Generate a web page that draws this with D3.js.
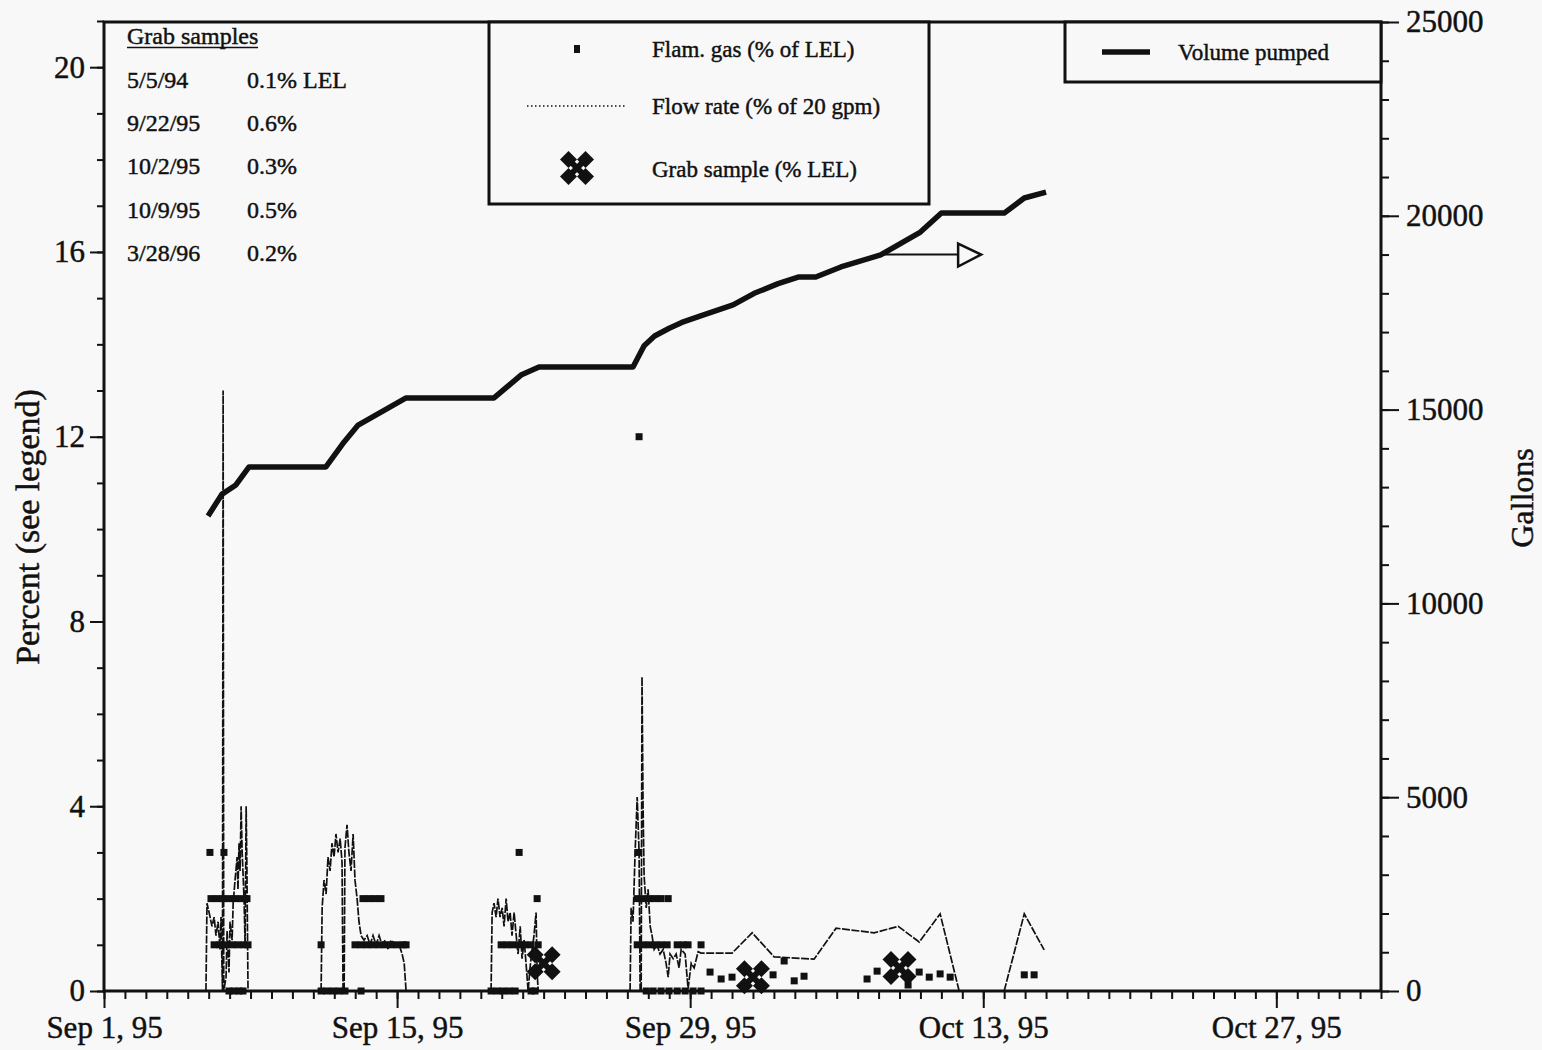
<!DOCTYPE html>
<html>
<head>
<meta charset="utf-8">
<script src="https://cdn.jsdelivr.net/npm/d3@7"></script>
<style>
body { margin: 0; background: #f8f8f8; }
svg { display: block; }
text { font-family: "Liberation Serif", "Times New Roman", serif; fill: #111; stroke: #111; stroke-width: 0.45px; }
</style>
</head>
<body>
<svg id="chart"></svg>
<script>
'use strict';

const WIDTH = 1542;
const HEIGHT = 1050;
const LEFT = 104;
const RIGHT = 1381;
const TOP = 22;
const BOTTOM = 991;
const INK = "#111";

// days counted from Sep 1, 1995
const START = Date.UTC(1995, 8, 1);
const END = Date.UTC(1995, 10, 1);

// [day, gallons]
const volumePumped = [
    [4.97, 12255], [5.64, 12820], [6.3, 13055], [6.93, 13520], [10.6, 13520],
    [11.47, 14165], [12.14, 14600], [13.57, 15040], [14.43, 15300], [18.63, 15300],
    [19.92, 15890], [20.78, 16100], [25.27, 16100], [25.8, 16650], [26.3, 16900],
    [27.0, 17100], [27.6, 17250], [28.5, 17420], [30.05, 17700], [31.06, 18000],
    [32.2, 18250], [33.16, 18420], [34.0, 18420], [35.2, 18680], [37.1, 18990],
    [39.0, 19580], [40.0, 20070], [43.0, 20070], [43.96, 20460], [45.0, 20610]
];

// [day, % of LEL]
const flamGas = [
    [5.06, 3], [5.73, 3],
    [5.11, 2], [5.40, 2], [5.69, 2], [5.97, 2], [6.26, 2], [6.55, 2], [6.83, 2],
    [5.26, 1], [5.54, 1], [5.83, 1], [6.12, 1], [6.40, 1], [6.69, 1], [6.88, 1],
    [5.97, 0], [6.21, 0], [6.45, 0], [6.64, 0],
    [10.37, 1], [11.99, 1], [12.28, 1], [12.57, 1], [12.85, 1], [13.14, 1], [13.43, 1],
    [13.71, 1], [14.0, 1], [14.29, 1], [14.43, 1],
    [12.37, 2], [12.66, 2], [12.95, 2], [13.23, 2],
    [10.37, 0], [10.65, 0], [10.94, 0], [11.23, 0], [11.51, 0], [12.28, 0],
    [19.83, 3], [20.69, 2],
    [18.97, 1], [19.25, 1], [19.54, 1], [19.83, 1], [20.11, 1], [20.40, 1], [20.74, 1],
    [18.49, 0], [18.78, 0], [19.06, 0], [19.35, 0], [19.64, 0], [20.40, 0], [20.59, 0],
    [25.56, 12], [25.51, 3],
    [25.47, 2], [25.75, 2], [26.04, 2], [26.33, 2], [26.61, 2], [26.95, 2],
    [25.47, 1], [25.75, 1], [26.04, 1], [26.33, 1], [26.61, 1], [26.90, 1], [27.38, 1],
    [27.67, 1], [27.90, 1], [28.52, 1],
    [25.90, 0], [26.23, 0], [26.61, 0], [26.99, 0], [27.38, 0], [27.76, 0], [28.14, 0], [28.52, 0],
    [28.95, 0.41], [29.48, 0.26], [30.0, 0.30], [31.96, 0.35], [32.49, 0.65], [32.97, 0.22],
    [33.44, 0.32], [36.45, 0.26], [36.93, 0.43], [38.41, 0.13], [38.94, 0.41], [39.42, 0.30],
    [39.94, 0.37], [40.42, 0.30], [43.96, 0.35], [44.43, 0.35]
];

// [day, % of 20 gpm], one array per pumping run
const flowRun1 = [
    [4.87, 0], [4.92, 1.9], [5.02, 1.7], [5.16, 1.4], [5.26, 1.6], [5.35, 1.2], [5.45, 1.5],
    [5.54, 0.9], [5.59, 1.6], [5.66, 0], [5.69, 13], [5.72, 0], [5.83, 0.3], [5.88, 1.3],
    [5.97, 0.4], [6.02, 1.5], [6.12, 1.1], [6.17, 1.9], [6.26, 2.4], [6.36, 2.9], [6.40, 2.2],
    [6.45, 3.2], [6.50, 2.6], [6.55, 4.0], [6.60, 3.0], [6.69, 2.0], [6.74, 1.0], [6.79, 4.0],
    [6.83, 2.5], [6.88, 0]
];
const flowRun2 = [
    [10.37, 0], [10.42, 1.8], [10.51, 2.4], [10.61, 2.1], [10.70, 2.9], [10.80, 2.6], [10.89, 3.2],
    [10.99, 2.9], [11.08, 3.4], [11.18, 3.0], [11.28, 3.3], [11.37, 2.8], [11.42, 0], [11.47, 0],
    [11.51, 3.1], [11.61, 3.6], [11.70, 3.0], [11.80, 2.6], [11.90, 3.4], [11.99, 2.4], [12.09, 2.0],
    [12.18, 1.5], [12.28, 1.2], [12.42, 1.1], [12.57, 1.2], [12.71, 1.0], [12.85, 1.2], [13.0, 1.0],
    [13.14, 1.2], [13.28, 1.0], [13.43, 1.1], [13.57, 0.9], [13.71, 1.1], [13.90, 1.0], [14.10, 1.0],
    [14.24, 0.8], [14.34, 0.6], [14.43, 0]
];
const flowRun3 = [
    [18.49, 0], [18.54, 1.7], [18.63, 1.9], [18.73, 1.6], [18.82, 2.0], [18.92, 1.6], [19.02, 1.8],
    [19.11, 1.4], [19.21, 2.0], [19.30, 1.5], [19.40, 1.7], [19.49, 1.2], [19.59, 1.7], [19.69, 1.2],
    [19.78, 0.8], [19.88, 1.4], [19.97, 0.7], [20.07, 1.1], [20.16, 0.6], [20.26, 0], [20.35, 0.5],
    [20.45, 0.9], [20.54, 1.2], [20.64, 1.7], [20.69, 0.4], [20.74, 0]
];
const flowRun4 = [
    [25.13, 0], [25.18, 1.8], [25.27, 1.5], [25.37, 3.0], [25.47, 4.2], [25.56, 3.0], [25.61, 0],
    [25.66, 0], [25.70, 6.8], [25.75, 4.0], [25.80, 2.5], [25.90, 1.8], [25.99, 2.2], [26.09, 1.4],
    [26.18, 1.2], [26.28, 0.9], [26.42, 1.0], [26.56, 0.8], [26.71, 0.9], [26.85, 0.6], [26.95, 0.3],
    [27.04, 0.8], [27.19, 0.7], [27.33, 0.8], [27.47, 0.5], [27.57, 0.9], [27.76, 0.8], [27.90, 0.05],
    [28.05, 0.6], [28.19, 0.5], [28.38, 0.85], [28.52, 0.82], [30.0, 0.82], [30.96, 1.26],
    [32.01, 0.74], [33.92, 0.69], [34.97, 1.36], [36.79, 1.26], [37.94, 1.40], [38.94, 1.06],
    [39.94, 1.67], [40.85, 0]
];
const flowRun5 = [
    [43.0, 0], [43.96, 1.67], [44.91, 0.89]
];

// [day, % LEL]
const grabSamples = [[21, 0.6], [31, 0.3], [38, 0.5]];

const grabDates = ["5/5/94", "9/22/95", "10/2/95", "10/9/95", "3/28/96"];
const grabValues = ["0.1% LEL", "0.6%", "0.3%", "0.5%", "0.2%"];

const percentTicks = [0, 4, 8, 12, 16, 20];
const gallonTicks = [0, 5000, 10000, 15000, 20000, 25000];

const toDate = d => new Date(START + d * 864e5);

const svg = d3.select("svg#chart")
              .attr("width", WIDTH)
              .attr("height", HEIGHT);

svg.append("rect")
   .attr("width", WIDTH)
   .attr("height", HEIGHT)
   .attr("fill", "#f8f8f8");

const xScale = d3.scaleUtc()
                 .domain([new Date(START), new Date(END)])
                 .range([LEFT, RIGHT]);
const yLeft = d3.scaleLinear()
                .domain([0, 21])
                .range([BOTTOM, TOP - 1]);
const yRight = d3.scaleLinear()
                 .domain([0, 25000])
                 .range([BOTTOM, TOP]);

const allDays = d3.utcDay.range(new Date(START), new Date(END + 1));
const majorDays = allDays.filter((d, i) => i % 14 === 0 && i < 60);

const styleAxis = (g, size) => {
    g.select(".domain").remove();
    g.selectAll(".tick line").attr("stroke", INK).attr("stroke-width", 2);
    g.selectAll(".tick text").attr("font-size", size).attr("fill", INK)
     .attr("font-family", "Liberation Serif, serif");
};

// minor ticks
svg.append("g")
   .attr("transform", "translate(0," + BOTTOM + ")")
   .call(d3.axisBottom(xScale).tickValues(allDays).tickSize(8).tickFormat(""))
   .call(g => styleAxis(g, 0));
svg.append("g")
   .attr("transform", "translate(" + LEFT + ",0)")
   .call(d3.axisLeft(yLeft).tickValues(d3.range(0, 22)).tickSize(7).tickFormat(""))
   .call(g => styleAxis(g, 0));
svg.append("g")
   .attr("transform", "translate(" + RIGHT + ",0)")
   .call(d3.axisRight(yRight).tickValues(d3.range(0, 25001, 1000)).tickSize(8).tickFormat(""))
   .call(g => styleAxis(g, 0));

// major ticks
svg.append("g")
   .attr("transform", "translate(0," + BOTTOM + ")")
   .call(d3.axisBottom(xScale).tickValues(majorDays).tickSize(17).tickPadding(8)
           .tickFormat(d3.utcFormat("%b %-d, %y")))
   .call(g => styleAxis(g, 31));
svg.append("g")
   .attr("transform", "translate(" + LEFT + ",0)")
   .call(d3.axisLeft(yLeft).tickValues(percentTicks).tickSize(14).tickPadding(5))
   .call(g => styleAxis(g, 31));
svg.append("g")
   .attr("transform", "translate(" + RIGHT + ",0)")
   .call(d3.axisRight(yRight).tickValues(gallonTicks).tickSize(18).tickPadding(7)
           .tickFormat(d3.format("d")))
   .call(g => styleAxis(g, 31));

// frame
svg.append("path")
   .attr("d", "M" + LEFT + "," + TOP + "H" + RIGHT + "V" + BOTTOM + "H" + LEFT + "Z")
   .attr("fill", "none")
   .attr("stroke", INK)
   .attr("stroke-width", 3);

// axis titles
svg.append("text")
   .attr("transform", "translate(39,527) rotate(-90)")
   .attr("text-anchor", "middle")
   .attr("font-size", 34)
   .text("Percent (see legend)");
svg.append("text")
   .attr("transform", "translate(1533,498) rotate(-90)")
   .attr("text-anchor", "middle")
   .attr("font-size", 32)
   .text("Gallons");

// flow rate
const flowLine = d3.line()
                   .x(d => xScale(toDate(d[0])))
                   .y(d => yLeft(d[1]));
[flowRun1, flowRun2, flowRun3, flowRun4, flowRun5].forEach(run => {
    svg.append("path")
       .datum(run)
       .attr("fill", "none")
       .attr("stroke", INK)
       .attr("stroke-width", 1.7)
       .attr("stroke-dasharray", "8,1.5")
       .attr("d", flowLine);
});

// volume pumped
svg.append("path")
   .datum(volumePumped)
   .attr("fill", "none")
   .attr("stroke", INK)
   .attr("stroke-width", 5.5)
   .attr("stroke-linejoin", "round")
   .attr("d", d3.line()
                .x(d => xScale(toDate(d[0])))
                .y(d => yRight(d[1])));

// arrow pointing at the gallons axis
const arrowY = yRight(19000);
const arrowX0 = xScale(toDate(37.2));
const arrowX1 = xScale(toDate(40.8));
const arrowTip = xScale(toDate(41.9));
svg.append("line")
   .attr("x1", arrowX0).attr("x2", arrowX1)
   .attr("y1", arrowY).attr("y2", arrowY)
   .attr("stroke", INK)
   .attr("stroke-width", 2);
svg.append("path")
   .attr("d", "M" + arrowX1 + "," + (arrowY - 11) + "L" + arrowTip + "," + arrowY +
              "L" + arrowX1 + "," + (arrowY + 12) + "Z")
   .attr("fill", "#f8f8f8")
   .attr("stroke", INK)
   .attr("stroke-width", 2.5);

// flammable gas squares
svg.append("g")
   .selectAll("rect")
   .data(flamGas)
   .enter()
   .append("rect")
   .attr("x", d => xScale(toDate(d[0])) - 3.5)
   .attr("y", d => yLeft(d[1]) - 3.5)
   .attr("width", 7)
   .attr("height", 7)
   .attr("fill", INK);

// grab sample marker: four diamonds in an X
const grabMarker = (g, cx, cy) => {
    const r = 8.5;
    g.append("path")
     .attr("d", "M" + (cx - 11) + "," + (cy - 11) + "L" + (cx + 11) + "," + (cy + 11) +
                "M" + (cx + 11) + "," + (cy - 11) + "L" + (cx - 11) + "," + (cy + 11))
     .attr("stroke", INK)
     .attr("stroke-width", 6);
    [[-1, -1], [1, -1], [-1, 1], [1, 1]].forEach(([sx, sy]) => {
        const x = cx + sx * r, y = cy + sy * r;
        g.append("path")
         .attr("d", "M" + x + "," + (y - r) + "L" + (x + r) + "," + y + "L" + x + "," + (y + r) +
                    "L" + (x - r) + "," + y + "Z")
         .attr("fill", INK);
    });
};
const grabG = svg.append("g");
grabSamples.forEach(d => grabMarker(grabG, xScale(toDate(d[0])), yLeft(d[1])));

// grab samples table
svg.append("text")
   .attr("x", 127).attr("y", 44)
   .attr("font-size", 24)
   .text("Grab samples");
svg.append("line")
   .attr("x1", 127).attr("x2", 258)
   .attr("y1", 47.5).attr("y2", 47.5)
   .attr("stroke", INK)
   .attr("stroke-width", 1.5);
grabDates.forEach((t, i) => {
    svg.append("text")
       .attr("x", 127).attr("y", 88 + i * 43.2)
       .attr("font-size", 24)
       .text(t);
    svg.append("text")
       .attr("x", 247).attr("y", 88 + i * 43.2)
       .attr("font-size", 24)
       .text(grabValues[i]);
});

// legend (series)
svg.append("rect")
   .attr("x", 489).attr("y", 22)
   .attr("width", 440).attr("height", 182)
   .attr("fill", "#f8f8f8")
   .attr("stroke", INK)
   .attr("stroke-width", 3);
svg.append("rect")
   .attr("x", 574).attr("y", 45)
   .attr("width", 6).attr("height", 8)
   .attr("fill", INK);
svg.append("line")
   .attr("x1", 527).attr("x2", 627)
   .attr("y1", 106).attr("y2", 106)
   .attr("stroke", INK)
   .attr("stroke-width", 1.4)
   .attr("stroke-dasharray", "1.5,2.5");
grabMarker(svg.append("g"), 577, 168);
[["Flam. gas (% of LEL)", 57], ["Flow rate (% of 20 gpm)", 114], ["Grab sample (% LEL)", 177]]
    .forEach(([t, y]) => {
        svg.append("text")
           .attr("x", 652).attr("y", y)
           .attr("font-size", 23)
           .text(t);
    });

// legend (volume)
svg.append("rect")
   .attr("x", 1065).attr("y", 22)
   .attr("width", 316).attr("height", 60)
   .attr("fill", "#f8f8f8")
   .attr("stroke", INK)
   .attr("stroke-width", 3);
svg.append("line")
   .attr("x1", 1102).attr("x2", 1150)
   .attr("y1", 52).attr("y2", 52)
   .attr("stroke", INK)
   .attr("stroke-width", 5.5);
svg.append("text")
   .attr("x", 1178).attr("y", 60)
   .attr("font-size", 23)
   .text("Volume pumped");
</script>
</body>
</html>
